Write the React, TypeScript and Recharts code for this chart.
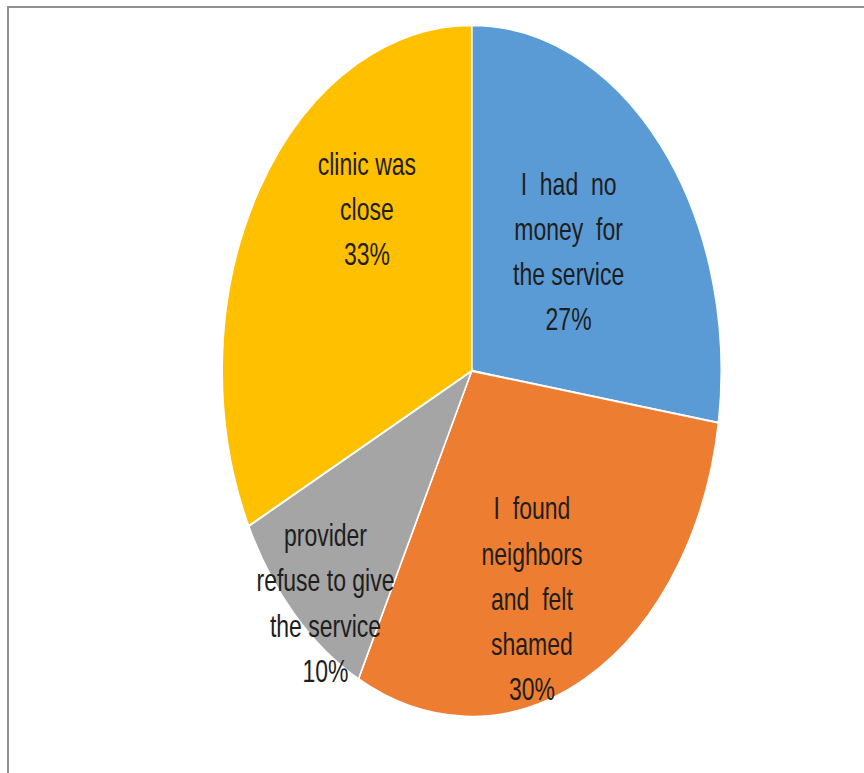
import React from 'react';
import { PieChart, Pie, Cell } from 'recharts';

const categories = [
  'I had no money for the service',
  'I found neighbors and felt shamed',
  'provider refuse to give the service',
  'clinic was close',
];
// slice sizes as drawn in the picture
const values = [27.4, 30.1, 10.1, 32.4];
// percentages as printed on the picture
const percentLabels = ['27%', '30%', '10%', '33%'];
const labelLines = [
  ['I  had  no', 'money  for', 'the service'],
  ['I  found', 'neighbors', 'and  felt', 'shamed'],
  ['provider', 'refuse to give', 'the service'],
  ['clinic was', 'close'],
];
const colors = ['#5B9BD5', '#ED7D31', '#A5A5A5', '#FFC000'];

// label placement: fraction of radius and angular nudge (degrees, clockwise)
const labelPlacement = [
  { r: 0.52, da: -1 },
  { r: 0.7, da: 7 },
  { r: 0.89, da: -4 },
  { r: 0.63, da: 16.5 },
];

const data = categories.map((name, i) => ({ name, value: values[i] }));

const SCALE_Y = 1.386;
const LINE_H = 32.5;
const RAD = Math.PI / 180;

const renderLabel = (props: any) => {
  const { cx, cy, midAngle, outerRadius, index } = props;
  const p = labelPlacement[index];
  const ang = midAngle - p.da;
  const r = outerRadius * p.r;
  const x = cx + r * Math.cos(-ang * RAD);
  const y = cy + r * Math.sin(-ang * RAD);
  const lines = [...labelLines[index], percentLabels[index]];
  const n = lines.length;
  return (
    <text
      x={x}
      y={y}
      textAnchor="middle"
      dominantBaseline="central"
      fill="#1e1e1e"
      style={{ fontFamily: 'Liberation Sans, Arial, sans-serif', fontSize: 23, whiteSpace: 'pre' }}
    >
      {lines.map((l, i) => (
        <tspan key={i} x={x} dy={i === 0 ? -((n - 1) / 2) * LINE_H : LINE_H}>
          {l}
        </tspan>
      ))}
    </text>
  );
};

export default function App() {
  return (
    <div>
      <div
        style={{
          position: 'absolute',
          left: 7,
          top: 6,
          width: 857,
          height: 767,
          boxSizing: 'border-box',
          borderTop: '2px solid #8f8f8f',
          borderLeft: '2px solid #8f8f8f',
          background: '#ffffff',
        }}
      />
      <div
        style={{
          position: 'absolute',
          left: 0,
          top: 0,
          width: 864,
          height: 557,
          transform: `scaleY(${SCALE_Y})`,
          transformOrigin: '0 0',
        }}
      >
        <PieChart width={864} height={557} margin={{ top: 0, right: 0, bottom: 0, left: 0 }}>
          <Pie
            data={data}
            dataKey="value"
            nameKey="name"
            cx={471.7}
            cy={267.6}
            outerRadius={249.5}
            startAngle={90}
            endAngle={-270}
            stroke="#ffffff"
            strokeWidth={1.5}
            label={renderLabel}
            labelLine={false}
            isAnimationActive={false}
          >
            {data.map((d, i) => (
              <Cell key={d.name} fill={colors[i]} />
            ))}
          </Pie>
        </PieChart>
      </div>
    </div>
  );
}
